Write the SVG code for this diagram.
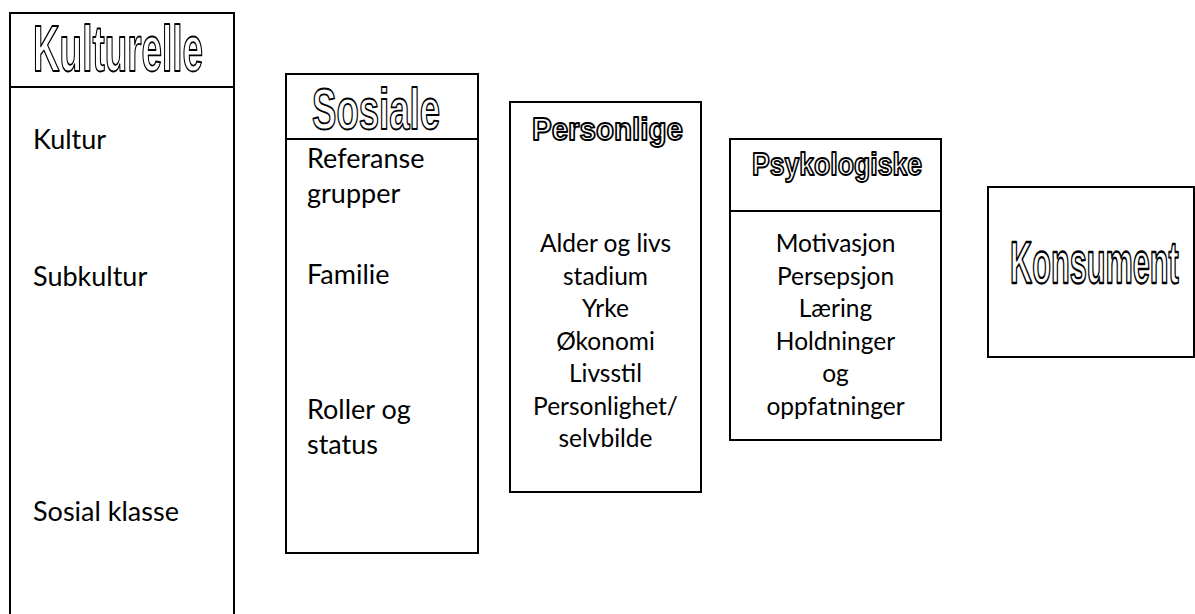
<svg xmlns="http://www.w3.org/2000/svg" width="1195" height="614" viewBox="0 0 1195 614">
<style>
.box{fill:#fff;stroke:#000;stroke-width:2}
.div{stroke:#000;stroke-width:2}
.head{font-family:"Liberation Sans",Arial,sans-serif;font-weight:bold;fill:#fff;stroke:#000;stroke-width:1.8;stroke-linejoin:round}
.t{font-family:Lato,"Open Sans",sans-serif;fill:#000}
.big{font-size:27px}
.mid{font-size:24.5px;text-anchor:middle}
</style>
<rect width="1195" height="614" fill="#fff"/>
<g id="kulturelle">
<rect class="box" x="10" y="13" width="224" height="640"/>
<line class="div" x1="10" y1="87" x2="234" y2="87"/>
<text class="head" x="33" y="71" font-size="64" textLength="170" lengthAdjust="spacingAndGlyphs">Kulturelle</text>
<text class="t big" x="33" y="149">Kultur</text>
<text class="t big" x="33" y="286">Subkultur</text>
<text class="t big" x="33" y="521">Sosial klasse</text>
</g>
<g id="sosiale">
<rect class="box" x="286" y="74" width="192" height="479"/>
<line class="div" x1="286" y1="139" x2="478" y2="139"/>
<text class="head" x="312" y="129" font-size="57" textLength="128" lengthAdjust="spacingAndGlyphs">Sosiale</text>
<text class="t big" x="307" y="168">Referanse</text>
<text class="t big" x="307" y="203">grupper</text>
<text class="t big" x="307" y="284">Familie</text>
<text class="t big" x="307" y="419">Roller og</text>
<text class="t big" x="307" y="454">status</text>
</g>
<g id="personlige">
<rect class="box" x="510" y="102" width="191" height="390"/>
<text class="head" x="532" y="140" font-size="31" textLength="151" lengthAdjust="spacingAndGlyphs">Personlige</text>
<text class="t mid" x="605.5" y="252">Alder og livs</text>
<text class="t mid" x="605.5" y="284.5">stadium</text>
<text class="t mid" x="605.5" y="317">Yrke</text>
<text class="t mid" x="605.5" y="349.5">Økonomi</text>
<text class="t mid" x="605.5" y="382">Livsstil</text>
<text class="t mid" x="605.5" y="414.5">Personlighet/</text>
<text class="t mid" x="605.5" y="447">selvbilde</text>
</g>
<g id="psykologiske">
<rect class="box" x="730" y="139" width="211" height="301"/>
<line class="div" x1="730" y1="211" x2="941" y2="211"/>
<text class="head" x="752" y="175" font-size="31" textLength="170" lengthAdjust="spacingAndGlyphs">Psykologiske</text>
<text class="t mid" x="835.5" y="252">Motivasjon</text>
<text class="t mid" x="835.5" y="284.5">Persepsjon</text>
<text class="t mid" x="835.5" y="317">Læring</text>
<text class="t mid" x="835.5" y="349.5">Holdninger</text>
<text class="t mid" x="835.5" y="382">og</text>
<text class="t mid" x="835.5" y="414.5">oppfatninger</text>
</g>
<g id="konsument">
<rect class="box" x="988" y="187" width="206" height="170"/>
<text class="head" transform="translate(1010,283) scale(0.52,1)" x="0" y="0" font-size="59" vector-effect="non-scaling-stroke">Konsument</text>
</g>
<g id="connectors"></g>
</svg>
